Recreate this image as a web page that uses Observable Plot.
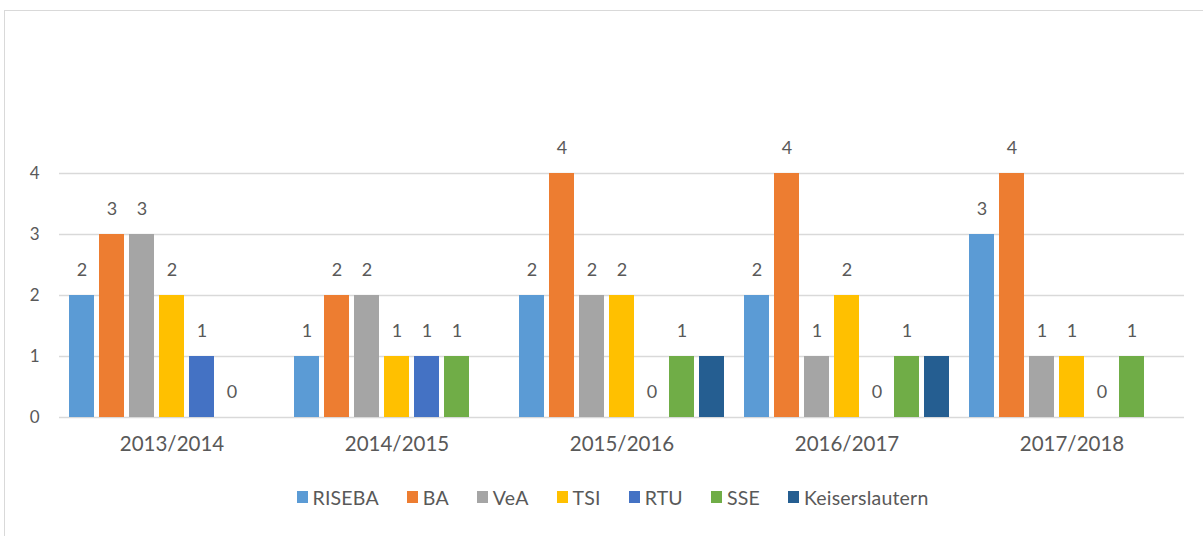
<!DOCTYPE html>
<html>
<head>
<meta charset="utf-8">
<script src="https://cdn.jsdelivr.net/npm/d3@7"></script>
<script src="https://cdn.jsdelivr.net/npm/@observablehq/plot@0.6"></script>
<style>
  html, body { margin: 0; padding: 0; background: #fff; }
  #wrap { position: relative; width: 1203px; height: 536px; overflow: hidden; font-family: Lato, "Open Sans", sans-serif; }
  #frame { position: absolute; left: 4px; top: 10px; width: 1400px; height: 800px; border: 1px solid #d9d9d9; }
  #chart { position: absolute; left: 0; top: 0; }
  #legend { position: absolute; left: 0; top: 483px; width: 1203px; }
  div.lg-swatches { justify-content: center; padding-left: 50px; box-sizing: border-box; width: 1203px; font-family: Lato, sans-serif; font-size: 19.5px; color: #595959; min-height: 28px; letter-spacing: 0.2px; }
  div.lg-swatches .lg-swatch { margin-right: 28px; }
  div.lg-swatches .lg-swatch > svg { margin-right: 5px; }
</style>
</head>
<body>
<div id="wrap">
  <div id="frame"></div>
  <div id="chart"></div>
  <div id="legend"></div>
</div>
<script>
const years = ["2013/2014", "2014/2015", "2015/2016", "2016/2017", "2017/2018"];
const seriesNames = ["RISEBA", "BA", "VeA", "TSI", "RTU", "SSE", "Keiserslautern"];
const colors = ["#5B9BD5", "#ED7D31", "#A5A5A5", "#FFC000", "#4472C4", "#70AD47", "#255E91"];
const RISEBA = [2, 1, 2, 2, 3];
const BA = [3, 2, 4, 4, 4];
const VeA = [3, 2, 2, 1, 1];
const TSI = [2, 1, 2, 2, 1];
const RTU = [1, 1, 0, 0, 0];
const SSE = [0, 1, 1, 1, 1];
const Keiserslautern = [null, null, 1, 1, null];
const unlabeledSeries = ["Keiserslautern"];
const yTicks = [0, 1, 2, 3, 4];

const valuesBySeries = {RISEBA, BA, VeA, TSI, RTU, SSE, Keiserslautern};
const data = [];
for (const s of seriesNames) {
  valuesBySeries[s].forEach((v, i) => {
    if (v !== null) data.push({year: years[i], series: s, value: v});
  });
}
const labelData = data.filter(d => !unlabeledSeries.includes(d.series));

const textColor = "#595959";
const chart = Plot.plot({
  width: 1203,
  height: 470,
  marginTop: 173,
  marginBottom: 53,
  marginLeft: 58,
  marginRight: 18,
  style: {fontFamily: "Lato, sans-serif", fontSize: "17px", color: textColor, background: "transparent"},
  fx: {domain: years, padding: 0, label: null, axis: null},
  x: {domain: seriesNames, paddingInner: 0.18, paddingOuter: 0.27, axis: null},
  y: {domain: [0, 4], ticks: yTicks, label: null, tickSize: 0, tickPadding: 20, tickFormat: d3.format("d")},
  color: {domain: seriesNames, range: colors},
  marks: [
    Plot.ruleY(yTicks, {stroke: "#d9d9d9", strokeWidth: 1.3, strokeOpacity: 1}),
    Plot.barY(data, {fx: "year", x: "series", y: "value", fill: "series"}),
    Plot.text(labelData, {fx: "year", x: "series", y: "value", text: d => String(d.value), dy: -25, fill: textColor, fontSize: 18}),
    Plot.axisFx({anchor: "bottom", tickSize: 0, tickPadding: 19, fontSize: 20.5, label: null, fill: textColor})
  ]
});
document.getElementById("chart").appendChild(chart);

const legend = Plot.legend({
  color: {domain: seriesNames, range: colors},
  legend: "swatches",
  className: "lg",
  swatchWidth: 11,
  swatchHeight: 12
});
document.getElementById("legend").appendChild(legend);
</script>
</body>
</html>
